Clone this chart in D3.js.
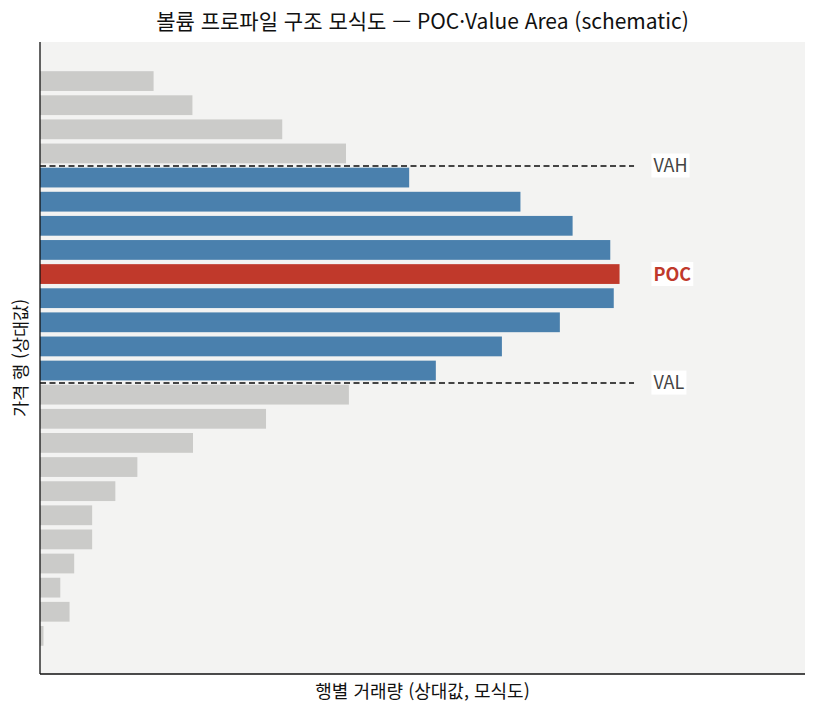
<!DOCTYPE html>
<html lang="ko">

<head>
    <meta charset="UTF-8">
    <title>Volume Profile</title>
    <style>
        body { margin: 0; background: #fff; }
        svg text { font-family: "Noto Sans CJK KR", "Noto Sans", sans-serif; }
    </style>
</head>

<body>
    <div id="graph"></div>

    <script src="https://cdnjs.cloudflare.com/ajax/libs/d3/7.8.5/d3.min.js"></script>

    <script>
        // price rows, top (high) to bottom (low)
        var rows = d3.range(24);
        var volumes = [19.6, 26.3, 41.8, 52.8,
            63.7, 82.9, 91.9, 98.4, 100, 99.0, 89.7, 79.7, 68.3,
            53.3, 39.0, 26.4, 16.8, 13.0, 9.0, 9.0, 5.9, 3.5, 5.1, 0.6];
        var pocRow = 8;
        var vahRow = 4;   // first row inside value area
        var valRow = 12;  // last row inside value area

        var title = "볼륨 프로파일 구조 모식도 — POC·Value Area (schematic)";
        var xLabel = "행별 거래량 (상대값, 모식도)";
        var yLabel = "가격 행 (상대값)";

        var margin = { top: 42, right: 13, bottom: 40, left: 40 },
            width = 818 - margin.left - margin.right,
            height = 714 - margin.top - margin.bottom;

        var root = d3.select("#graph").append("svg")
            .attr("width", 818)
            .attr("height", 714);

        var svg = root.append("g")
            .attr("transform", "translate(" + margin.left + "," + margin.top + ")");

        var x = d3.scaleLinear().domain([0, 132]).range([0, width]);
        var y = d3.scaleLinear().domain([-1.62, rows.length - 1 + 1.58]).range([0, height]);
        var barH = 0.82;

        svg.append("rect")
            .attr("width", width)
            .attr("height", height)
            .attr("fill", "#f3f3f2");

        function colorOf(i) {
            if (i === pocRow) return "#c0392b";
            if (i >= vahRow && i <= valRow) return "#4a80ad";
            return "#cbcbc9";
        }

        svg.selectAll(".bar")
            .data(rows)
            .enter().append("rect")
            .attr("class", "bar")
            .attr("x", x(0))
            .attr("y", i => y(i - barH / 2))
            .attr("width", i => x(volumes[i]) - x(0))
            .attr("height", y(barH) - y(0))
            .attr("fill", i => colorOf(i));

        // value area boundaries
        var bounds = [
            { name: "VAH", pos: vahRow - 0.5 },
            { name: "VAL", pos: valRow + 0.5 }
        ];

        svg.selectAll(".bound")
            .data(bounds)
            .enter().append("line")
            .attr("x1", x(0))
            .attr("x2", x(102.5))
            .attr("y1", d => Math.round(y(d.pos)))
            .attr("y2", d => Math.round(y(d.pos)))
            .attr("stroke", "#444")
            .attr("stroke-width", 2)
            .attr("stroke-dasharray", "6,3.5");

        var labels = bounds.map(d => ({ name: d.name, pos: d.pos, color: "#444", weight: "normal" }))
            .concat([{ name: "POC", pos: pocRow, color: "#c0392b", weight: "bold" }]);

        var lab = svg.selectAll(".lab")
            .data(labels)
            .enter().append("g")
            .attr("transform", d => "translate(" + x(105.5) + "," + y(d.pos) + ")");

        lab.append("text")
            .attr("x", 2)
            .attr("dy", "0.36em")
            .attr("font-size", 18)
            .attr("font-weight", d => d.weight)
            .attr("fill", d => d.color)
            .text(d => d.name)
            .each(function () {
                var b = this.getBBox();
                d3.select(this.parentNode).insert("rect", "text")
                    .attr("x", b.x - 2)
                    .attr("y", -12)
                    .attr("width", b.width + 4)
                    .attr("height", 24)
                    .attr("fill", "#fff");
            });

        // axes: only left and bottom spines, no ticks
        svg.append("line")
            .attr("x1", 0).attr("x2", 0)
            .attr("y1", 0).attr("y2", height)
            .attr("stroke", "#111").attr("stroke-width", 1.3);

        svg.append("line")
            .attr("x1", 0).attr("x2", width)
            .attr("y1", height).attr("y2", height)
            .attr("stroke", "#111").attr("stroke-width", 1.3);

        root.append("text")
            .attr("x", margin.left + width / 2)
            .attr("y", 29)
            .attr("text-anchor", "middle")
            .attr("font-size", 21)
            .attr("fill", "#111")
            .text(title);

        root.append("text")
            .attr("x", margin.left + width / 2)
            .attr("y", 698)
            .attr("text-anchor", "middle")
            .attr("font-size", 18)
            .attr("fill", "#111")
            .text(xLabel);

        root.append("text")
            .attr("transform", "translate(27," + (margin.top + height / 2) + ") rotate(-90)")
            .attr("text-anchor", "middle")
            .attr("font-size", 17.5)
            .attr("fill", "#111")
            .text(yLabel);
    </script>
</body>

</html>
